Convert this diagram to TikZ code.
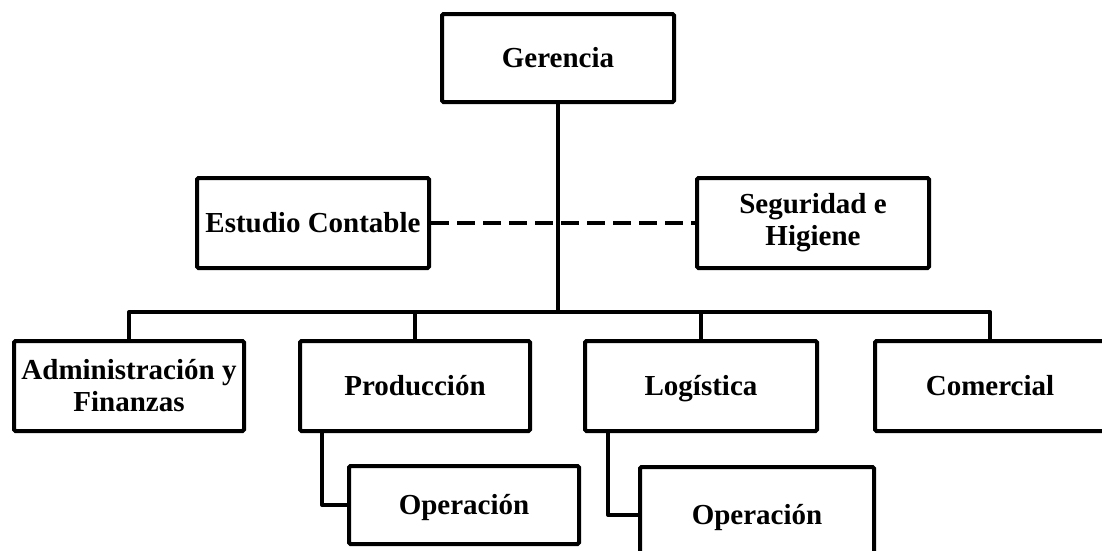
\documentclass[tikz,border=0pt]{standalone}
\usepackage{fontspec}
\setmainfont{Liberation Serif}
\newcommand{\ystrut}{\vphantom{Ágp}}
\begin{document}
\begin{tikzpicture}[x=1pt,y=-1pt,
  box/.style={draw=black, line width=4pt, rounded corners=1.5pt, fill=white,
    inner sep=0pt, align=center, font=\bfseries\fontsize{29}{32}\selectfont},
  conn/.style={draw=black, line width=4pt},
  dashconn/.style={draw=black, line width=4pt, dash pattern=on 18pt off 8pt}]
\useasboundingbox (0,0) rectangle (1102,550);
\clip (0,0) rectangle (1102,550);
% nodes
\node[box, minimum width=232pt, minimum height=88pt] (ger) at (558,58) {\ystrut Gerencia};
\node[box, minimum width=232pt, minimum height=90pt] (est) at (313,223) {\ystrut Estudio Contable};
\node[box, minimum width=232pt, minimum height=90pt] (seg) at (813,223) {Seguridad e\\Higiene};
\node[box, minimum width=230pt, minimum height=90pt] (adm) at (129,386) {Administración y\\Finanzas};
\node[box, minimum width=230pt, minimum height=90pt] (pro) at (415,386) {\ystrut Producción};
\node[box, minimum width=232pt, minimum height=90pt] (log) at (701,386) {\ystrut Logística};
\node[box, minimum width=230pt, minimum height=90pt] (com) at (990,386) {\ystrut Comercial};
\node[box, minimum width=230pt, minimum height=78pt] (op1) at (464,505) {\ystrut Operación};
\node[box, minimum width=234pt, minimum height=96pt] (op2) at (757,515) {\ystrut Operación};
% connectors
\coordinate (bus) at (558,312);
\draw[dashconn] (est.east) -- (seg.west);
\draw[conn] (ger.south) -- (bus);
\draw[conn, line join=round] (adm.north) |- (bus) -| (com.north);
\draw[conn] (pro.north) -- (pro.north |- bus);
\draw[conn] (log.north) -- (log.north |- bus);
\draw[conn, line join=round] (pro.south -| 322,0) |- (op1.west);
\draw[conn, line join=round] (log.south -| 608,0) |- (op2.west);
\end{tikzpicture}
\end{document}
